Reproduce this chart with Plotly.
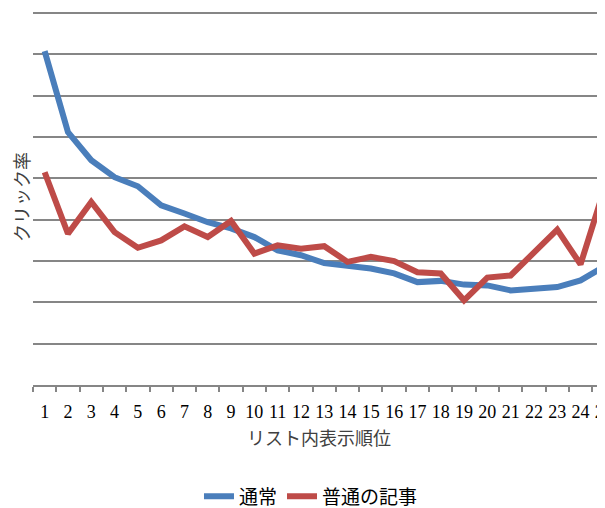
import plotly.graph_objects as go

# Data (click rate, in grid units)
positions = [str(i) for i in range(1, 26)]
normal = [8.08, 6.12, 5.44, 5.03, 4.81, 4.35, 4.15, 3.94, 3.79, 3.58,
          3.26, 3.14, 2.95, 2.90, 2.82, 2.70, 2.49, 2.52, 2.43, 2.41,
          2.29, 2.33, 2.37, 2.53, 2.86]
ordinary_articles = [5.15, 3.66, 4.43, 3.70, 3.32, 3.50, 3.84, 3.58, 3.97, 3.18,
                     3.38, 3.30, 3.36, 2.98, 3.10, 3.00, 2.73, 2.70, 2.05, 2.60,
                     2.65, 3.22, 3.76, 2.92, 4.71]
series_names = ["通常", "普通の記事"]
x_title = "リスト内表示順位"
y_title = "クリック率"

BLUE = "#4A7EBB"
RED = "#BE4B48"
JP = "Noto Sans CJK JP"
SERIF = "Liberation Serif"

fig = go.Figure()
fig.add_trace(go.Scatter(x=positions, y=normal, name=series_names[0], mode="lines",
                         line=dict(color=BLUE, width=6)))
fig.add_trace(go.Scatter(x=positions, y=ordinary_articles, name=series_names[1], mode="lines",
                         line=dict(color=RED, width=6)))

# The page body has an 8px default margin, so the figure is 597x500
fig.update_layout(
    width=597, height=500,
    margin=dict(l=25, r=0, t=0.6, b=123.3, pad=0, autoexpand=False),
    paper_bgcolor="white", plot_bgcolor="white",
    showlegend=True,
    legend=dict(orientation="h", x=0.486, xanchor="center", y=-0.296, yanchor="middle",
                font=dict(family=JP, size=19, color="#000000"),
                itemwidth=30, tracegroupgap=0),
    xaxis=dict(
        type="category", range=[-0.5, 24.05],
        tickson="boundaries", ticks="outside", ticklen=5, tickwidth=1.5, tickcolor="#868686",
        tickmode="linear", tick0=0, dtick=1, tickangle=0,
        showgrid=False, showline=True, linecolor="#868686", linewidth=1.5,
        tickfont=dict(family=SERIF, size=18, color="#000000"),
        ticklabelstandoff=10,
        title=dict(text=x_title, font=dict(family=JP, size=18, color="#404040"), standoff=11),
    ),
    yaxis=dict(
        range=[0, 9.1], tickmode="linear", tick0=0, dtick=1,
        showticklabels=False, ticks="",
        showgrid=True, gridcolor="#868686", gridwidth=1.5,
        zeroline=False, showline=False,
        title=dict(text=y_title, font=dict(family=JP, size=18, color="#404040"), standoff=0),
    ),
)

fig.write_html("out.html")
